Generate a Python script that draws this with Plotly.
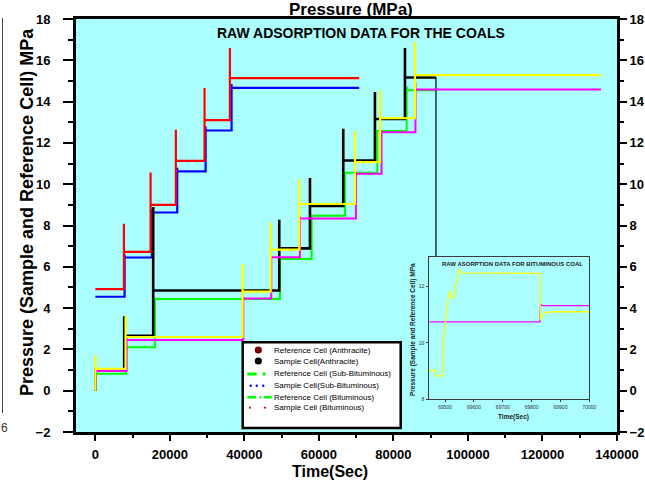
import plotly.graph_objects as go

# ---------------- data ----------------
red_start, red_end = 0, 70800
red_first = []
red_steps = [7650, 14820, 21600, 29300, 36100]
red_levels = [4.92, 6.72, 9.0, 11.13, 13.1, 15.14]
red_peaks = [8.09, 10.57, 12.64, 14.66, 16.6]

blue_start, blue_end = 0, 70800
blue_first = []
blue_steps = [7840, 15170, 21970, 29580, 36550]
blue_levels = [4.55, 6.45, 8.63, 10.62, 12.6, 14.66]
blue_peaks = [6.6, 8.8, 10.8, 12.8, 14.85]

black_start, black_end = 0, 91410
black_first = [0.0]
black_steps = [7730, 15520, 49350, 57590, 66530, 75030, 83090]
black_levels = [1.0, 2.66, 4.85, 6.89, 8.95, 11.15, 13.16, 15.17]
black_peaks = [3.6, 8.9, 8.28, 10.3, 12.69, 14.47, 16.6]
black_drop_to = 3.0

green_start, green_end = 0, 91410
green_first = [0.0]
green_steps = [8270, 15970, 49530, 58040, 66980, 75660, 83550]
green_levels = [0.82, 2.1, 4.44, 6.38, 8.47, 10.56, 12.58, 14.55]
green_peaks = [0.82, 2.1, 4.44, 6.38, 8.47, 10.56, 14.74]

yellow_start, yellow_end = 0, 135700
yellow_first = [0.0, 1.7]
yellow_steps = [8100, 39500, 47030, 54720, 69670, 76400, 85770]
yellow_levels = [1.06, 2.6, 4.8, 6.83, 9.04, 11.07, 13.2, 15.28]
yellow_peaks = [3.6, 6.13, 8.15, 10.25, 12.56, 14.54, 16.87]

magenta_start, magenta_end = 0, 135700
magenta_first = [0.0]
magenta_steps = [8380, 39690, 47200, 54900, 69930, 76800, 85900]
magenta_levels = [0.95, 2.46, 4.46, 6.46, 8.34, 10.51, 12.51, 14.58]
magenta_peaks = [2.55, 4.55, 6.55, 8.45, 10.6, 12.6, 14.9]

# inset (bituminous coal, zoom around 69500-70000 s)
inset_yellow_x = [69445, 69467, 69467, 69490, 69491, 69497, 69505, 69513, 69517,
                  69523, 69532, 69535, 69542, 69546, 69551, 69557, 69829, 69830,
                  69835, 69846, 69875, 70000]
inset_yellow_y = [9.02, 9.02, 8.83, 8.83, 9.87, 10.47, 11.12, 11.77, 11.83,
                  11.6, 11.62, 12.07, 12.15, 12.58, 12.55, 12.48, 12.46, 10.82,
                  10.94, 11.06, 11.1, 11.1]
inset_magenta_x = [69445, 69829, 69830, 69831, 69836, 70000]
inset_magenta_y = [10.74, 10.74, 11.32, 11.38, 11.32, 11.32]

main_x_ticks = [0, 20000, 40000, 60000, 80000, 100000, 120000, 140000]
inset_x_ticks = [69500, 69600, 69700, 69800, 69900, 70000]
inset_y_ticks = [8, 10, 12]

legend_labels = ["Reference Cell (Anthracite)", "Sample Cell(Anthracite)",
                 "Reference Cell (Sub-Bituminous)", "Sample Cell(Sub-Bituminous)",
                 "Reference Cell (Bituminous)", "Sample Cell (Bituminous)"]

# ---------------- geometry helpers ----------------
W, H = 645, 492
L, R, T, B = 76, 617, 19, 432


def px(x):
    return (x - L) / (R - L)


def py(y):
    return (B - y) / (B - T)


def step_path(x0, x1, first, steps, levels, peaks):
    xs = [x0] * len(first) + [x0]
    ys = list(first) + [levels[0]]
    for s, prev, pk, lv in zip(steps, levels[:-1], peaks, levels[1:]):
        xs += [s, s, s]
        ys += [prev, pk, lv]
    xs.append(x1)
    ys.append(levels[-1])
    return xs, ys


CYAN = "#abfefe"
FONT = "Arial, Liberation Sans, sans-serif"

fig = go.Figure()

series = [
    (blue_start, blue_end, blue_first, blue_steps, blue_levels, blue_peaks, "#0000ff", 2.2),
    (red_start, red_end, red_first, red_steps, red_levels, red_peaks, "#ff0000", 2.2),
    (green_start, green_end, green_first, green_steps, green_levels, green_peaks, "#00ff00", 2),
    (black_start, black_end, black_first, black_steps, black_levels, black_peaks, "#000000", 2.6),
    (magenta_start, magenta_end, magenta_first, magenta_steps, magenta_levels, magenta_peaks, "#ff00ff", 2),
    (yellow_start, yellow_end, yellow_first, yellow_steps, yellow_levels, yellow_peaks, "#ffff00", 2.2),
]
for (x0, x1, first, st, lv, pk, col, w) in series:
    xs, ys = step_path(x0, x1, first, st, lv, pk)
    fig.add_trace(go.Scatter(x=xs, y=ys, mode="lines", line=dict(color=col, width=w),
                             showlegend=False, hoverinfo="skip"))
    if col == "#000000":
        fig.add_trace(go.Scatter(x=[x1, x1], y=[lv[-1], black_drop_to], mode="lines",
                                 line=dict(color="#000000", width=1.2),
                                 showlegend=False, hoverinfo="skip"))

# dummy trace for right axis
fig.add_trace(go.Scatter(x=[None], y=[None], yaxis="y2", showlegend=False, hoverinfo="skip"))

# inset traces
fig.add_trace(go.Scatter(x=inset_magenta_x, y=inset_magenta_y, mode="lines",
                         line=dict(color="#ff00ff", width=1.3), xaxis="x2", yaxis="y3",
                         showlegend=False, hoverinfo="skip"))
fig.add_trace(go.Scatter(x=inset_yellow_x, y=inset_yellow_y, mode="lines",
                         line=dict(color="#ffff00", width=1.3), xaxis="x2", yaxis="y3",
                         showlegend=False, hoverinfo="skip"))

tickfont = dict(family=FONT, size=13, color="black", weight="bold")

fig.update_layout(
    width=W, height=H, autosize=False,
    margin=dict(l=L, r=W - R, t=T, b=H - B, pad=0, autoexpand=False),
    paper_bgcolor="white",
    plot_bgcolor=CYAN,
    showlegend=False,
    xaxis=dict(range=[-5200, 140000], tickvals=main_x_ticks,
               ticktext=[str(v) for v in main_x_ticks], automargin=False,
               showgrid=False, zeroline=False, showline=True, linecolor="black",
               linewidth=3, mirror=True, ticks="outside", ticklen=6, tickwidth=2,
               tickcolor="black", tickfont=tickfont, ticklabelstandoff=2,
               minor=dict(dtick=10000, ticks="outside", ticklen=3, tickwidth=2,
                          tickcolor="black", showgrid=False)),
    yaxis=dict(range=[-2, 18], dtick=2, showgrid=False, zeroline=False, automargin=False,
               showline=True, linecolor="black", linewidth=3,
               ticks="outside", ticklen=10, tickwidth=2, tickcolor="black",
               tickfont=tickfont, ticklabelstandoff=10,
               minor=dict(dtick=1, ticks="outside", ticklen=5, tickwidth=2,
                          tickcolor="black", showgrid=False)),
    yaxis2=dict(range=[-2, 18], dtick=2, overlaying="y", side="right", automargin=False,
                showgrid=False, zeroline=False, showline=True, linecolor="black",
                linewidth=3, ticks="outside", ticklen=7, tickwidth=2,
                tickcolor="black", tickfont=tickfont, ticklabelstandoff=0,
                minor=dict(dtick=1, ticks="outside", ticklen=4, tickwidth=2,
                           tickcolor="black", showgrid=False)),
    xaxis2=dict(domain=[px(429.3), px(589.3)], anchor="y3", range=[69445, 70000],
                tickvals=inset_x_ticks, ticktext=[str(v) for v in inset_x_ticks],
                automargin=False,
                showgrid=False, zeroline=False, showline=True, linecolor="#3a3a3a",
                linewidth=1, mirror=True, ticks="outside", ticklen=2, tickwidth=1,
                tickcolor="#3a3a3a", tickfont=dict(family=FONT, size=5, color="#333"),
                ticklabelstandoff=1),
    yaxis3=dict(domain=[py(399.3), py(256.7)], anchor="x2", range=[8, 13.05],
                tickvals=inset_y_ticks, ticktext=[str(v) for v in inset_y_ticks],
                automargin=False,
                showgrid=False, zeroline=False, showline=True, linecolor="#3a3a3a",
                linewidth=1, mirror=True, ticks="outside", ticklen=2, tickwidth=1,
                tickcolor="#3a3a3a", tickfont=dict(family=FONT, size=5, color="#333"),
                ticklabelstandoff=1),
)

ann = []
# titles
ann.append(dict(text="Pressure (MPa)", x=px(351), y=py(10), xref="paper", yref="paper",
                showarrow=False, font=dict(family=FONT, size=17, color="black", weight="bold"),
                xanchor="center", yanchor="middle"))
ann.append(dict(text="RAW ADSORPTION DATA FOR THE COALS", x=px(361), y=py(33),
                xref="paper", yref="paper", showarrow=False,
                font=dict(family=FONT, size=14, color="black", weight="bold"),
                xanchor="center", yanchor="middle"))
ann.append(dict(text="Pressure (Sample and Reference Cell) MPa", x=px(27), y=py(212),
                xref="paper", yref="paper", showarrow=False, textangle=-90,
                font=dict(family=FONT, size=18, color="black", weight="bold"),
                xanchor="center", yanchor="middle"))
ann.append(dict(text="Time(Sec)", x=px(330), y=py(472), xref="paper", yref="paper",
                showarrow=False, font=dict(family=FONT, size=16, color="black", weight="bold"),
                xanchor="center", yanchor="middle"))
ann.append(dict(text="6", x=px(4), y=py(428), xref="paper", yref="paper",
                showarrow=False, font=dict(family=FONT, size=12, color="#333"),
                xanchor="center", yanchor="middle"))
# inset texts
ann.append(dict(text="RAW ASORPTION DATA FOR BITUMINOUS COAL", x=px(512), y=py(263.5),
                xref="paper", yref="paper", showarrow=False,
                font=dict(family=FONT, size=6, color="#222", weight="bold"),
                xanchor="center", yanchor="middle"))
ann.append(dict(text="Pressure (Sample and Reference Cell) MPa", x=px(413), y=py(330),
                xref="paper", yref="paper", showarrow=False, textangle=-90,
                font=dict(family=FONT, size=6.5, color="#222", weight="bold"),
                xanchor="center", yanchor="middle"))
ann.append(dict(text="Time(Sec)", x=px(513), y=py(416.7), xref="paper", yref="paper",
                showarrow=False, font=dict(family=FONT, size=6.5, color="#222", weight="bold"),
                xanchor="center", yanchor="middle"))

# legend texts
leg_y = [350, 361, 373.5, 385.5, 397.3, 407.7]
for lab, yy in zip(legend_labels, leg_y):
    ann.append(dict(text=lab, x=px(271.7), y=py(yy), xref="paper", yref="paper",
                    showarrow=False, font=dict(family=FONT, size=8, color="black"),
                    xanchor="left", yanchor="middle"))

shapes = []
# legend box
shapes.append(dict(type="rect", xref="paper", yref="paper", x0=px(242.7), x1=px(400.7),
                   y0=py(428), y1=py(342.3), line=dict(color="black", width=2.5),
                   fillcolor="white", layer="above"))


def circ(cx, cy, r, col):
    return dict(type="circle", xref="paper", yref="paper", x0=px(cx - r), x1=px(cx + r),
                y0=py(cy + r), y1=py(cy - r), line=dict(color=col, width=0),
                fillcolor=col, layer="above")


def seg(x0, x1, yy, col, w):
    return dict(type="line", xref="paper", yref="paper", x0=px(x0), x1=px(x1),
                y0=py(yy), y1=py(yy), line=dict(color=col, width=w), layer="above")


shapes.append(circ(258.3, 350, 3.6, "#7a0000"))
shapes.append(circ(258.3, 361, 3.6, "#000000"))
shapes.append(seg(247.3, 256.7, 374, "#00ff00", 3))
shapes.append(seg(262.8, 265.6, 374, "#00ff00", 3))
for cx in (250.7, 256.7, 263.3):
    shapes.append(circ(cx, 385.7, 1.2, "#0000ff"))
shapes.append(seg(247.3, 256, 397.3, "#00ff00", 2.5))
shapes.append(seg(259.6, 261.2, 397.3, "#00ff00", 2.5))
shapes.append(seg(264, 271.7, 397.3, "#00ff00", 2.5))
for cx in (250, 265):
    shapes.append(circ(cx, 407.7, 1.1, "#ff0000"))
# artifact line at far left
shapes.append(dict(type="line", xref="paper", yref="paper", x0=px(2.5), x1=px(2.5),
                   y0=py(413), y1=py(18), line=dict(color="#444", width=1)))

fig.update_layout(annotations=ann, shapes=shapes)
fig.write_html("out.html",
               config={"displayModeBar": False, "responsive": False},
               post_script="document.body.style.margin='0';document.body.style.padding='0';"
                           "document.body.style.overflow='hidden';")
